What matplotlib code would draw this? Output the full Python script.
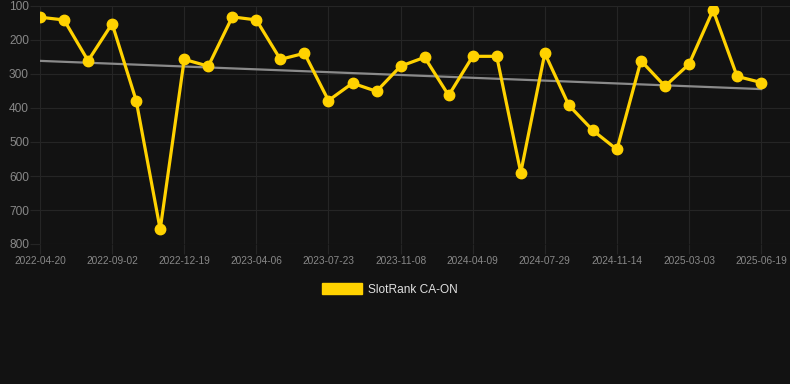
"""SlotRank CA-ON rank history with trend line."""
import matplotlib.pyplot as plt
import numpy as np
from matplotlib.patches import Patch

# rank per measurement (lower = better), evenly spaced categories
ranks = [133, 141, 261, 152, 378, 757, 257, 277, 132, 141,
         257, 239, 378, 327, 351, 277, 251, 363, 248, 248,
         590, 239, 392, 466, 522, 261, 336, 271, 112, 307, 325]
# a label is shown on every third point
tick_labels = ["2022-04-20", "2022-09-02", "2022-12-19", "2023-04-06",
               "2023-07-23", "2023-11-08", "2024-04-09", "2024-07-29",
               "2024-11-14", "2025-03-03", "2025-06-19"]
y_ticks = [100, 200, 300, 400, 500, 600, 700, 800]

BG = "#121212"
GRID = "#252525"
YELLOW = "#FFD200"
LABEL = "#888888"

plt.rcParams["font.family"] = ["Liberation Sans", "DejaVu Sans"]

W, H = 790, 384
fig = plt.figure(figsize=(W / 100, H / 100), dpi=100, facecolor=BG)
ax = fig.add_axes([40 / W, 1 - 244 / H, 750 / W, 238 / H], facecolor=BG)

x = np.arange(len(ranks))
ax.plot(x, ranks, color=YELLOW, lw=2.3, marker="o", ms=7.5, zorder=3)

# trend line (linear fit)
k, b = np.polyfit(x, ranks, 1)
ax.plot(x, k * x + b, color="#8a8a8a", lw=1.6, zorder=2)

ax.set_xlim(0, 31.2)
ax.set_ylim(800, 100)
ax.set_yticks(y_ticks)
ax.set_xticks(x[::3])
ax.set_xticklabels(tick_labels)

ax.grid(True, color=GRID, lw=0.8)
ax.tick_params(axis="x", colors=GRID, labelcolor=LABEL, labelsize=7.3,
               length=7, width=0.8, pad=2)
ax.tick_params(axis="y", colors=GRID, labelcolor=LABEL, labelsize=8.6,
               length=7, width=0.8, pad=1)
for s in ax.spines.values():
    s.set_visible(False)

handle = Patch(facecolor=YELLOW, edgecolor=YELLOW)
leg = fig.legend([handle], ["SlotRank CA-ON"], loc="upper center",
                 bbox_to_anchor=(0.5 - 5 / W, 1 - 272 / H), frameon=False,
                 fontsize=8.6, handlelength=3.3, handleheight=1.1,
                 handletextpad=0.55)
for t in leg.get_texts():
    t.set_color("#e0e0e0")

fig.savefig("out.png", dpi=100, facecolor=BG)
